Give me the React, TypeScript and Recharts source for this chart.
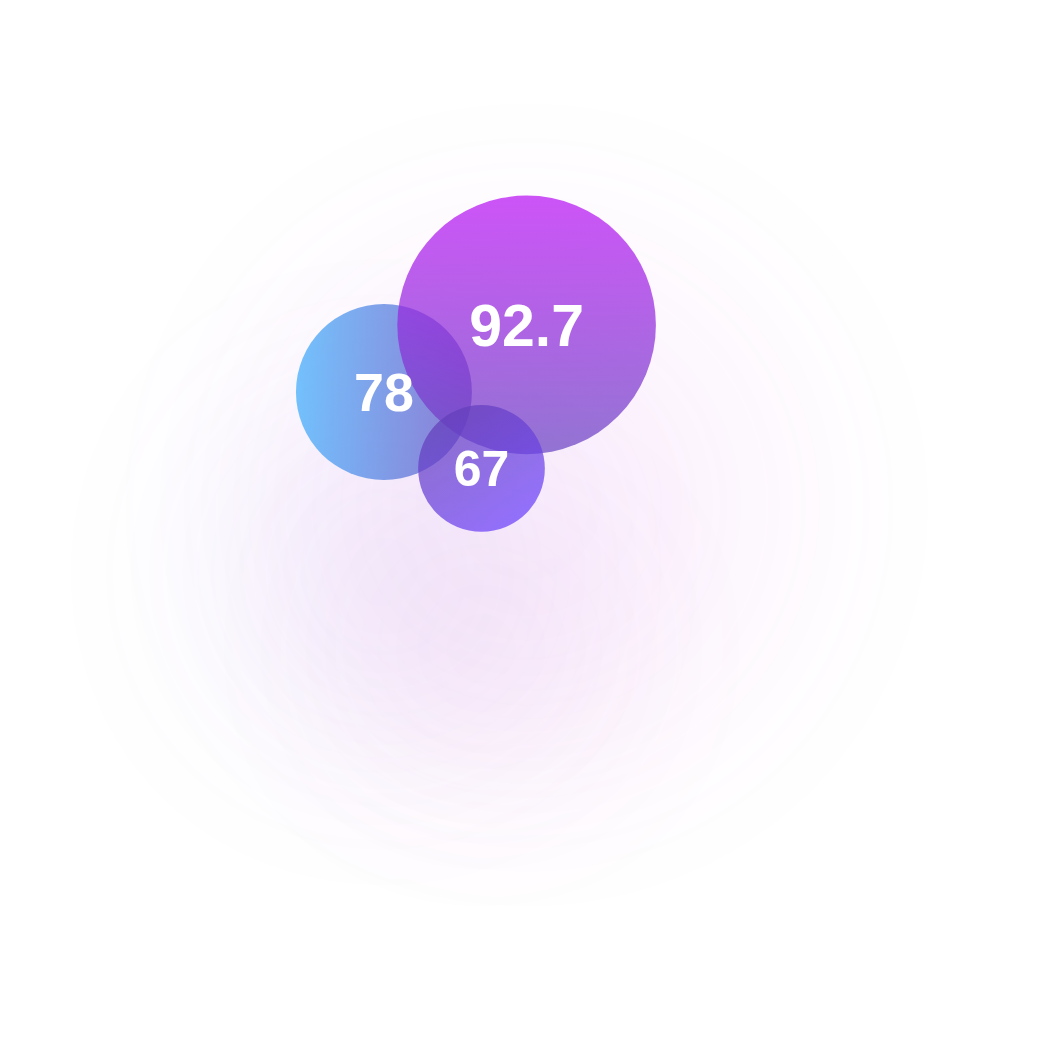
import { Scatter, ScatterChart, XAxis, YAxis, ZAxis } from "recharts";

// bubble values (drawing order: back to front)
const values = [78, 92.7, 67];
const xs = [36.6, 50.2, 45.9];
const ys = [62.6, 69.0, 55.3];
// relative bubble areas (largest = 100)
const weights = [46.3, 100, 24.0];

const W = 1049;
const H = 1048;

const fills = [
  { from: "#3eacfc", to: "#664fc3", x2: 1, y2: 0, glow: "#7a6ce0" },
  { from: "#b913f4", to: "#6a45c2", x2: 0, y2: 1, glow: "#d04ae8" },
  { from: "#613ead", to: "#6d41fc", x2: 0.7, y2: 1, glow: "#d050b0" },
];

const data = values.map((v, i) => ({ value: v, x: xs[i], y: ys[i], weight: weights[i], idx: i }));

function radiusOf(p: any): number {
  return Math.sqrt(Math.max(p.size ?? 0, 0) / Math.PI);
}

function Glow(props: any) {
  const { cx, cy, payload } = props;
  const r = radiusOf(props);
  return (
    <circle
      cx={cx}
      cy={cy + 180}
      r={r * 2}
      fill={fills[payload.idx].glow}
      opacity={0.075}
      filter="url(#glowBlur)"
    />
  );
}

function Bubble(props: any) {
  const { cx, cy, payload } = props;
  const r = radiusOf(props);
  return <circle cx={cx} cy={cy} r={r} fill={`url(#bub${payload.idx})`} fillOpacity={0.72} />;
}

function BubbleLabel(props: any) {
  const { cx, cy, payload } = props;
  const fs = 26.5 + 0.35 * payload.value;
  return (
    <text
      x={cx}
      y={cy + fs * 0.36}
      textAnchor="middle"
      fill="#ffffff"
      fontSize={fs}
      fontWeight={700}
      fontFamily="'Liberation Sans', Arial, sans-serif"
    >
      {payload.value}
    </text>
  );
}

export default function App() {
  return (
    <div style={{ position: "absolute", left: 0, top: 0, width: W, height: H, background: "#ffffff" }}>
      <ScatterChart width={W} height={H} margin={{ top: 0, right: 0, bottom: 0, left: 0 }}>
        <defs>
          {fills.map((f, i) => (
            <linearGradient key={i} id={`bub${i}`} x1={0} y1={0} x2={f.x2} y2={f.y2}>
              <stop offset="0%" stopColor={f.from} />
              <stop offset="100%" stopColor={f.to} />
            </linearGradient>
          ))}
          <filter id="glowBlur" filterUnits="userSpaceOnUse" x={-300} y={-300} width={W + 600} height={H + 600}>
            <feGaussianBlur stdDeviation={100} />
          </filter>
        </defs>
        <XAxis type="number" dataKey="x" domain={[0, 100]} hide />
        <YAxis type="number" dataKey="y" domain={[0, 100]} hide />
        <ZAxis type="number" dataKey="weight" domain={[0, 100]} range={[0, 52522]} />
        <Scatter data={data} shape={<Glow />} isAnimationActive={false} />
        <Scatter data={data} shape={<Bubble />} isAnimationActive={false} />
        <Scatter data={data} shape={<BubbleLabel />} isAnimationActive={false} />
      </ScatterChart>
    </div>
  );
}
